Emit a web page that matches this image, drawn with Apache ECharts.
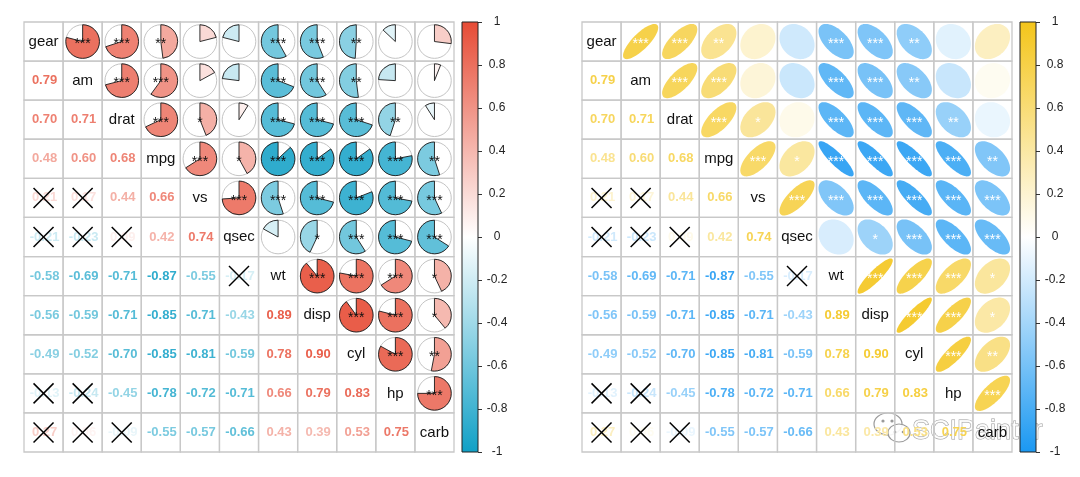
<!DOCTYPE html>
<html><head><meta charset="utf-8">
<script src="https://cdn.jsdelivr.net/npm/echarts/dist/echarts.min.js"></script>
<style>html,body{margin:0;padding:0;background:#fff}#c{width:1080px;height:477px}</style>
</head><body><div id="c"></div>
<script>
// ---- data ----
const variables = ['gear','am','drat','mpg','vs','qsec','wt','disp','cyl','hp','carb'];
// lower triangle correlations: corLower[row][col], col < row
const corLower = [
  [],
  [0.79],
  [0.70, 0.71],
  [0.48, 0.60, 0.68],
  [0.21, 0.17, 0.44, 0.66],
  [-0.21, -0.23, 0.09, 0.42, 0.74],
  [-0.58, -0.69, -0.71, -0.87, -0.55, -0.17],
  [-0.56, -0.59, -0.71, -0.85, -0.71, -0.43, 0.89],
  [-0.49, -0.52, -0.70, -0.85, -0.81, -0.59, 0.78, 0.90],
  [-0.13, -0.24, -0.45, -0.78, -0.72, -0.71, 0.66, 0.79, 0.83],
  [0.27, 0.06, -0.09, -0.55, -0.57, -0.66, 0.43, 0.39, 0.53, 0.75]
];
// significance stars ('' = not significant)
const starsLower = [
  [],
  ['***'],
  ['***', '***'],
  ['**', '***', '***'],
  ['', '', '*', '***'],
  ['', '', '', '*', '***'],
  ['***', '***', '***', '***', '***', ''],
  ['***', '***', '***', '***', '***', '*', '***'],
  ['**', '**', '***', '***', '***', '***', '***', '***'],
  ['', '', '**', '***', '***', '***', '***', '***', '***'],
  ['', '', '', '**', '***', '***', '*', '*', '**', '***']
];
const colorbarRange = [-1, 1];
const colorbarStep = 0.2;

// ---- styling ----
const FONT = '"Liberation Sans", Arial, sans-serif';
const rampLeft = ['#10A0C6', '#FFFFFF', '#E64B35'];
const rampRight = ['#1A98F2', '#FFFFFF', '#F4C51A'];

function hex2rgb(h){ h=h.replace('#',''); return [parseInt(h.substr(0,2),16),parseInt(h.substr(2,2),16),parseInt(h.substr(4,2),16)]; }
function colorFor(r, ramp){
  const a = hex2rgb(ramp[1]);
  const b = hex2rgb(r < 0 ? ramp[0] : ramp[2]);
  const t = Math.min(1, Math.abs(r));
  const c = a.map((v,k)=>Math.round(v + (b[k]-v)*t));
  return 'rgb(' + c.join(',') + ')';
}
function getCell(i, j){
  if (i > j) return [corLower[i][j], starsLower[i][j]];
  return [corLower[j][i], starsLower[j][i]];
}

const cells = [];
for (let i = 0; i < variables.length; i++)
  for (let j = 0; j < variables.length; j++) cells.push([j, i]);

function makeMatrixRender(kind, ramp){
  return function(params, api){
    const j = api.value(0), i = api.value(1);
    const c = api.coord([j, i]);
    const s = api.size([1, 1]);
    const w = s[0], h = s[1];
    const ch = [];
    ch.push({type:'rect', shape:{x:c[0]-w/2, y:c[1]-h/2, width:w, height:h},
      style:{fill:'none', stroke:'#c8c8c8', lineWidth:1.3}});
    if (i === j) {
      ch.push({type:'text', x:c[0], y:c[1], style:{text:variables[i], fill:'#111',
        font:'15px ' + FONT, align:'center', verticalAlign:'middle'}});
    } else if (j > i) {
      const [r, st] = getCell(i, j);
      const col = colorFor(r, ramp);
      if (kind === 'pie') {
        const R = w * 0.43;
        ch.push({type:'circle', shape:{cx:c[0], cy:c[1], r:R}, style:{fill:'#fff', stroke:'#c4c4c4', lineWidth:1}});
        const top = -Math.PI/2, span = 2*Math.PI*Math.abs(r);
        const sa = r >= 0 ? top : top - span, ea = r >= 0 ? top + span : top;
        ch.push({type:'sector', shape:{cx:c[0], cy:c[1], r0:0, r:R, startAngle:sa, endAngle:ea, clockwise:true},
          style:{fill:col, stroke:'#1a1a1a', lineWidth:0.9}});
        if (st) ch.push({type:'text', x:c[0], y:c[1]+3, style:{text:st, fill:'#111', font:'14px ' + FONT, align:'center', verticalAlign:'middle'}});
      } else {
        const a = w * 0.45;
        const d = Math.acos(r);
        const pts = [];
        for (let k = 0; k < 72; k++) {
          const t = k / 72 * 2 * Math.PI;
          pts.push([c[0] + Math.cos(t + d/2) * a, c[1] - Math.cos(t - d/2) * a]);
        }
        ch.push({type:'polygon', shape:{points:pts}, style:{fill:col, stroke:'none'}});
        if (st) ch.push({type:'text', x:c[0], y:c[1]+3, style:{text:st, fill:'#fff', font:'14px ' + FONT, align:'center', verticalAlign:'middle'}});
      }
    } else {
      const [r, st] = getCell(i, j);
      ch.push({type:'text', x:c[0]+1, y:c[1], style:{text:r.toFixed(2), fill:colorFor(r, ramp),
        font:'bold 13px ' + FONT, align:'center', verticalAlign:'middle'}});
      if (!st) {
        const q = 10;
        ch.push({type:'line', shape:{x1:c[0]-q, y1:c[1]-q, x2:c[0]+q, y2:c[1]+q}, style:{stroke:'#000', lineWidth:1.5}});
        ch.push({type:'line', shape:{x1:c[0]-q, y1:c[1]+q, x2:c[0]+q, y2:c[1]-q}, style:{stroke:'#000', lineWidth:1.5}});
      }
    }
    return {type:'group', children:ch};
  };
}

function makeBarRender(ramp){
  return function(params, api){
    const top = api.coord([0, colorbarRange[1]]);
    const bot = api.coord([0, colorbarRange[0]]);
    const cs = params.coordSys;
    return {type:'rect', shape:{x:cs.x, y:top[1], width:cs.width, height:bot[1]-top[1]},
      style:{fill:{type:'linear', x:0, y:0, x2:0, y2:1, colorStops:[
        {offset:0, color:ramp[2]}, {offset:0.5, color:ramp[1]}, {offset:1, color:ramp[0]}]},
        stroke:'#222', lineWidth:1}};
  };
}

const idx = variables.map((v,k)=>k);
function matX(g){ return {gridIndex:g, type:'category', data:idx, show:false}; }
function matY(g){ return {gridIndex:g, type:'category', data:idx, inverse:true, show:false}; }
function barX(g){ return {gridIndex:g, type:'category', data:['c'], show:false}; }
function barY(g){ return {gridIndex:g, type:'value', min:colorbarRange[0], max:colorbarRange[1], interval:colorbarStep,
  position:'right', axisLine:{show:false}, splitLine:{show:false},
  axisTick:{show:true, length:4, lineStyle:{color:'#333', width:1}},
  axisLabel:{margin:19, align:'center', fontSize:12, color:'#222', fontFamily:FONT}}; }

const option = {
  animation:false,
  backgroundColor:'#fff',
  grid:[
    {left:24, top:22, width:430, height:430},
    {left:462, top:22, width:16, height:430},
    {left:582, top:22, width:430, height:430},
    {left:1020, top:22, width:16, height:430}
  ],
  xAxis:[matX(0), barX(1), matX(2), barX(3)],
  yAxis:[matY(0), barY(1), matY(2), barY(3)],
  series:[
    {type:'custom', xAxisIndex:0, yAxisIndex:0, data:cells, renderItem:makeMatrixRender('pie', rampLeft)},
    {type:'custom', xAxisIndex:1, yAxisIndex:1, data:[[0,0]], renderItem:makeBarRender(rampLeft)},
    {type:'custom', xAxisIndex:2, yAxisIndex:2, data:cells, renderItem:makeMatrixRender('ellipse', rampRight)},
    {type:'custom', xAxisIndex:3, yAxisIndex:3, data:[[0,0]], renderItem:makeBarRender(rampRight)}
  ],
  graphic:[
    {type:'group', z:100, children:[
      {type:'ellipse', shape:{cx:888, cy:424, rx:14, ry:11}, style:{fill:'rgba(255,255,255,0.85)', stroke:'#9a9a9a', lineWidth:1.2}},
      {type:'ellipse', shape:{cx:899, cy:433, rx:11, ry:9}, style:{fill:'rgba(255,255,255,0.9)', stroke:'#9a9a9a', lineWidth:1.2}},
      {type:'circle', shape:{cx:883, cy:421, r:1.6}, style:{fill:'#9a9a9a'}},
      {type:'circle', shape:{cx:892, cy:421, r:1.6}, style:{fill:'#9a9a9a'}},
      {type:'circle', shape:{cx:895, cy:432, r:1.3}, style:{fill:'#9a9a9a'}},
      {type:'circle', shape:{cx:903, cy:432, r:1.3}, style:{fill:'#9a9a9a'}},
      {type:'text', x:912, y:432, style:{text:'SCIPainter', font:'27px ' + FONT, fill:'rgba(255,255,255,0.85)',
        stroke:'#9a9a9a', lineWidth:1, verticalAlign:'middle', align:'left'}}
    ]}
  ]
};
const chart = echarts.init(document.getElementById('c'), null, {renderer:'canvas'});
chart.setOption(option);
</script>
</body></html>
